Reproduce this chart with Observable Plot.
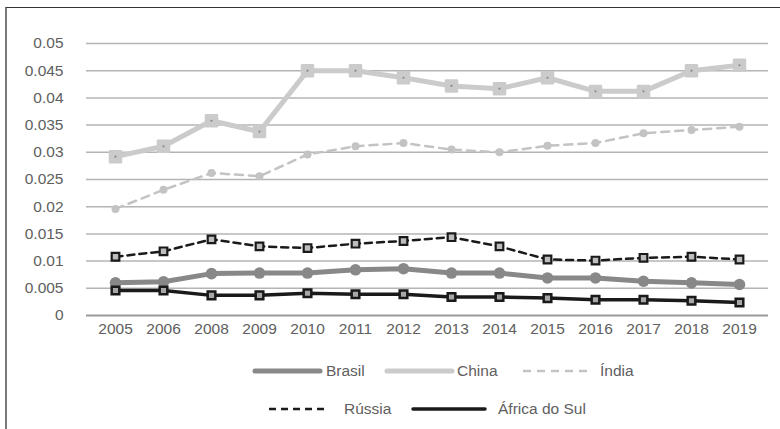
<!DOCTYPE html>
<html>
<head>
<meta charset="utf-8">
<script src="https://cdn.jsdelivr.net/npm/d3@7"></script>
<script src="https://cdn.jsdelivr.net/npm/@observablehq/plot@0.6"></script>
<style>
  body { margin: 0; background: #fff; }
  #wrap { position: relative; width: 780px; height: 429px; overflow: hidden; font-family: "Liberation Sans", Arial, sans-serif; }
  #frame { position: absolute; left: 5px; top: 7px; right: -5px; bottom: -5px; border-top: 1.5px solid #333; border-left: 2px solid #7a7a7a; pointer-events: none; }
  #chart { position: absolute; left: 0; top: 0; }
  #legend { position: absolute; left: 0; top: 340px; }
</style>
</head>
<body>
<div id="wrap">
  <div id="chart"></div>
  <svg id="legend" width="780" height="89"></svg>
  <div id="frame"></div>
</div>
<script>
const years = ["2005","2006","2008","2009","2010","2011","2012","2013","2014","2015","2016","2017","2018","2019"];
const brasil = [0.0060,0.0062,0.0077,0.0078,0.0078,0.0084,0.0086,0.0078,0.0078,0.0069,0.0069,0.0063,0.0060,0.0057];
const china  = [0.0292,0.0311,0.0358,0.0338,0.0450,0.0450,0.0437,0.0422,0.0417,0.0437,0.0412,0.0412,0.0450,0.0460];
const india  = [0.0196,0.0231,0.0262,0.0256,0.0296,0.0311,0.0317,0.0305,0.0300,0.0312,0.0317,0.0335,0.0341,0.0347];
const russia = [0.0108,0.0118,0.0140,0.0127,0.0124,0.0132,0.0137,0.0144,0.0127,0.0103,0.0101,0.0106,0.0108,0.0103];
const africa = [0.0046,0.0046,0.0037,0.0037,0.0041,0.0039,0.0039,0.0034,0.0034,0.0032,0.0029,0.0029,0.0027,0.0024];
const yTicks = [0,0.005,0.01,0.015,0.02,0.025,0.03,0.035,0.04,0.045,0.05];
const yLabels = ["0","0.005","0.01","0.015","0.02","0.025","0.03","0.035","0.04","0.045","0.05"];

const rows = s => years.map((y, i) => ({year: y, value: s[i]}));
const dBr = rows(brasil), dCh = rows(china), dIn = rows(india), dRu = rows(russia), dAf = rows(africa);

const FS = 15.5;
const TXT = "#606060";

const chart = Plot.plot({
  width: 780,
  height: 340,
  marginTop: 43,
  marginLeft: 86,
  marginRight: 12,
  marginBottom: 25,
  style: {fontFamily: "'Liberation Sans', Arial, sans-serif", fontSize: FS + "px", color: TXT, background: "white"},
  x: {type: "point", domain: years, padding: 0.5, label: null},
  y: {domain: [0, 0.05], label: null},
  marks: [
    Plot.ruleY(yTicks.slice(1), {stroke: "#b4b4b4", strokeWidth: 1.5}),
    Plot.ruleY([0], {stroke: "#999", strokeWidth: 2}),
    Plot.axisY(yTicks, {tickSize: 0, tickPadding: 23, tickFormat: (d, i) => yLabels[i], fill: TXT, fontSize: FS, label: null}),
    Plot.axisX({tickSize: 0, tickPadding: 7, fill: TXT, fontSize: FS, label: null}),
    // China
    Plot.line(dCh, {x: "year", y: "value", stroke: "#cbcbcb", strokeWidth: 5}),
    Plot.dot(dCh, {x: "year", y: "value", symbol: "square", r: 6.2, fill: "#cbcbcb", stroke: "#cbcbcb", strokeWidth: 2.5, strokeLinejoin: "round"}),
    Plot.dot(dCh, {x: "year", y: "value", r: 1.1, fill: "#8a8a8a"}),
    // India
    Plot.line(dIn, {x: "year", y: "value", stroke: "#c3c3c3", strokeWidth: 2.5, strokeDasharray: "8,6"}),
    Plot.dot(dIn, {x: "year", y: "value", r: 4, fill: "#c3c3c3"}),
    // Brasil
    Plot.line(dBr, {x: "year", y: "value", stroke: "#888", strokeWidth: 5}),
    Plot.dot(dBr, {x: "year", y: "value", r: 5.8, fill: "#888"}),
    // Russia
    Plot.line(dRu, {x: "year", y: "value", stroke: "#1a1a1a", strokeWidth: 2.5, strokeDasharray: "7,5"}),
    Plot.dot(dRu, {x: "year", y: "value", symbol: "square", r: 4.3, fill: "#bdbdbd", stroke: "#1a1a1a", strokeWidth: 2.2}),
    // Africa do Sul
    Plot.line(dAf, {x: "year", y: "value", stroke: "#1a1a1a", strokeWidth: 3.5}),
    Plot.dot(dAf, {x: "year", y: "value", symbol: "square", r: 4.3, fill: "#a8a8a8", stroke: "#1a1a1a", strokeWidth: 2.5})
  ]
});
document.getElementById("chart").appendChild(chart);

// Legend
const legendItems = [
  {name: "Brasil", x1: 255, x2: 320, tx: 326, y: 31, stroke: "#888", w: 5, dash: null},
  {name: "China", x1: 387, x2: 452, tx: 457, y: 31, stroke: "#cbcbcb", w: 5, dash: null},
  {name: "Índia", x1: 523, x2: 593, tx: 600, y: 31, stroke: "#c3c3c3", w: 2.5, dash: "8,6"},
  {name: "Rússia", x1: 269, x2: 328, tx: 344, y: 69, stroke: "#1a1a1a", w: 2.5, dash: "7,5"},
  {name: "África do Sul", x1: 413, x2: 485, tx: 498, y: 69, stroke: "#1a1a1a", w: 3.5, dash: null}
];
const lg = d3.select("#legend");
const g = lg.selectAll("g").data(legendItems).join("g");
g.append("line")
  .attr("x1", d => d.x1).attr("x2", d => d.x2)
  .attr("y1", d => d.y).attr("y2", d => d.y)
  .attr("stroke", d => d.stroke).attr("stroke-width", d => d.w)
  .attr("stroke-linecap", d => d.dash ? "butt" : "round")
  .attr("stroke-dasharray", d => d.dash);
g.append("text")
  .attr("x", d => d.tx).attr("y", d => d.y)
  .attr("dy", "0.35em")
  .attr("fill", TXT)
  .style("font-family", "'Liberation Sans', Arial, sans-serif")
  .style("font-size", FS + "px")
  .text(d => d.name);
</script>
</body>
</html>
